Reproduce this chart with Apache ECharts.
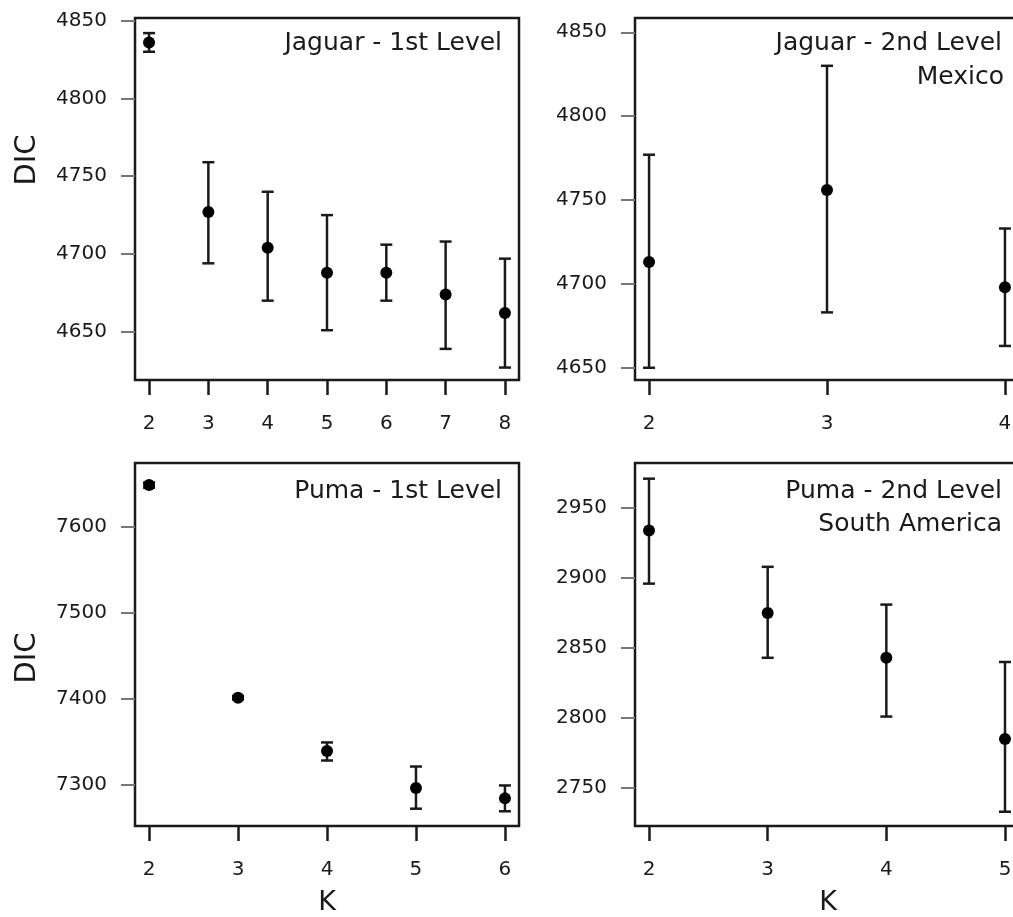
<!DOCTYPE html>
<html>
<head>
<meta charset="utf-8">
<script src="https://cdn.jsdelivr.net/npm/echarts@6.0.0/dist/echarts.min.js"></script>
<style>
html, body { margin: 0; padding: 0; background: #fff; overflow: hidden; }
#chart { width: 1040px; height: 917px; }
</style>
</head>
<body>
<div id="chart"></div>
<script>
// Jaguar - 1st level
const jag1K = [2, 3, 4, 5, 6, 7, 8]
const jag1Mean = [4836, 4727, 4704, 4688, 4688, 4674, 4662]
const jag1Low = [4830, 4694, 4670, 4651, 4670, 4639, 4627]
const jag1High = [4842, 4759, 4740, 4725, 4706, 4708, 4697]

// Jaguar - 2nd level (Mexico)
const jag2K = [2, 3, 4]
const jag2Mean = [4713, 4756, 4698]
const jag2Low = [4650, 4683, 4663]
const jag2High = [4777, 4830, 4733]

// Puma - 1st level
const puma1K = [2, 3, 4, 5, 6]
const puma1Mean = [7648, 7401, 7339, 7296, 7284]
const puma1Low = [7645, 7399, 7328, 7272, 7269]
const puma1High = [7651, 7403, 7349, 7321, 7299]

// Puma - 2nd level (South America)
const puma2K = [2, 3, 4, 5]
const puma2Mean = [2934, 2875, 2843, 2785]
const puma2Low = [2896, 2843, 2801, 2733]
const puma2High = [2971, 2908, 2881, 2840]

// tick labels
const jag1XTicks = [2, 3, 4, 5, 6, 7, 8]
const jag1YTicks = [4650, 4700, 4750, 4800, 4850]
const jag2XTicks = [2, 3, 4]
const jag2YTicks = [4650, 4700, 4750, 4800, 4850]
const puma1XTicks = [2, 3, 4, 5, 6]
const puma1YTicks = [7300, 7400, 7500, 7600]
const puma2XTicks = [2, 3, 4, 5]
const puma2YTicks = [2750, 2800, 2850, 2900, 2950]

const FONT = "DejaVu Sans"
const INK = "#1a1a1a"

const panels = [
  { k: jag1K, mean: jag1Mean, low: jag1Low, high: jag1High, xTicks: jag1XTicks, yTicks: jag1YTicks,
    xRange: [1.763, 8.237], yRange: [4619, 4851.7], grid: { left: 135, top: 18, width: 384, height: 362 } },
  { k: jag2K, mean: jag2Mean, low: jag2Low, high: jag2High, xTicks: jag2XTicks, yTicks: jag2YTicks,
    xRange: [1.921, 4.079], yRange: [4642.7, 4858.5], grid: { left: 635, top: 18, width: 384, height: 362 } },
  { k: puma1K, mean: puma1Mean, low: puma1Low, high: puma1High, xTicks: puma1XTicks, yTicks: puma1YTicks,
    xRange: [1.842, 6.158], yRange: [7251.9, 7673.7], grid: { left: 135, top: 463, width: 384, height: 363 } },
  { k: puma2K, mean: puma2Mean, low: puma2Low, high: puma2High, xTicks: puma2XTicks, yTicks: puma2YTicks,
    xRange: [1.882, 5.118], yRange: [2722.8, 2982.2], grid: { left: 635, top: 463, width: 384, height: 363 } }
]

// error bar with caps
const renderErrorBar = (params, api) => {
  const x = api.value(0)
  const top = api.coord([x, api.value(2)])
  const bottom = api.coord([x, api.value(1)])
  const cap = 6
  const style = { stroke: INK, lineWidth: 2.5 }
  return {
    type: "group",
    children: [
      { type: "line", shape: { x1: top[0], y1: top[1], x2: bottom[0], y2: bottom[1] }, style },
      { type: "line", shape: { x1: top[0] - cap, y1: top[1], x2: top[0] + cap, y2: top[1] }, style },
      { type: "line", shape: { x1: bottom[0] - cap, y1: bottom[1], x2: bottom[0] + cap, y2: bottom[1] }, style }
    ]
  }
}

const grids = []
const xAxes = []
const yAxes = []
const series = []

panels.forEach((p, i) => {
  grids.push({ ...p.grid, show: true, borderColor: INK, borderWidth: 2.5, backgroundColor: "transparent" })
  xAxes.push({
    type: "value", gridIndex: i, min: p.xRange[0], max: p.xRange[1],
    axisLine: { show: false },
    splitLine: { show: false },
    axisTick: { show: true, customValues: p.xTicks, length: 15, lineStyle: { color: INK, width: 2.5 } },
    axisLabel: { customValues: p.xTicks, margin: 34, fontFamily: FONT, fontSize: 20, color: INK }
  })
  yAxes.push({
    type: "value", gridIndex: i, min: p.yRange[0], max: p.yRange[1],
    axisLine: { show: false },
    splitLine: { show: false },
    axisTick: { show: true, customValues: p.yTicks, length: 14, lineStyle: { color: "#777", width: 2 } },
    axisLabel: {
      customValues: p.yTicks, margin: 28, fontFamily: FONT, fontSize: 20, color: INK,
      formatter: (v) => String(v)
    }
  })
  series.push({
    type: "custom", xAxisIndex: i, yAxisIndex: i,
    renderItem: renderErrorBar,
    encode: { x: 0, y: [1, 2] },
    data: p.k.map((k, j) => [k, p.low[j], p.high[j]]),
    z: 2
  })
  series.push({
    type: "scatter", xAxisIndex: i, yAxisIndex: i,
    symbol: "circle", symbolSize: 12,
    itemStyle: { color: "#000", opacity: 1 },
    data: p.k.map((k, j) => [k, p.mean[j]]),
    z: 3
  })
})

const textStyle = (text, x, y, size, align) => ({
  type: "text",
  style: { text, x, y, fontFamily: FONT, fontSize: size, fill: INK, textAlign: align, textVerticalAlign: "middle" }
})

const graphic = [
  textStyle("Jaguar - 1st Level", 502, 43, 25, "right"),
  textStyle("Jaguar - 2nd Level", 1002, 43, 25, "right"),
  textStyle("Mexico", 1004, 77, 25, "right"),
  textStyle("Puma - 1st Level", 502, 491, 25, "right"),
  textStyle("Puma - 2nd Level", 1002, 491, 25, "right"),
  textStyle("South America", 1002, 524, 25, "right"),
  textStyle("K", 327, 903, 27, "center"),
  textStyle("K", 828, 903, 27, "center"),
  {
    type: "text", x: 27, y: 160, rotation: Math.PI / 2,
    style: { text: "DIC", fontFamily: FONT, fontSize: 29, fill: INK, textAlign: "center", textVerticalAlign: "middle" }
  },
  {
    type: "text", x: 27, y: 658, rotation: Math.PI / 2,
    style: { text: "DIC", fontFamily: FONT, fontSize: 29, fill: INK, textAlign: "center", textVerticalAlign: "middle" }
  }
]

const chart = echarts.init(document.getElementById("chart"))
chart.setOption({
  animation: false,
  backgroundColor: "#fff",
  grid: grids,
  xAxis: xAxes,
  yAxis: yAxes,
  series,
  graphic
})
</script>
</body>
</html>
